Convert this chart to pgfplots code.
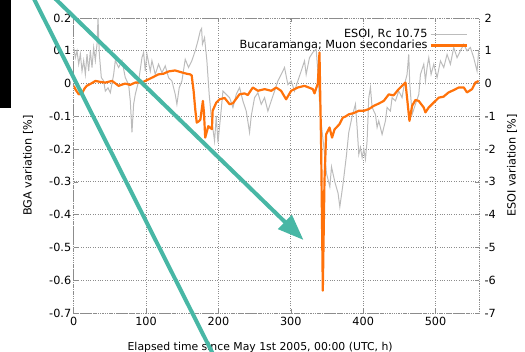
\documentclass[border=0pt]{standalone}
\usepackage{fontspec}
\setmainfont{DejaVu Sans}
\usepackage{pgfplots}
\usepackage{pgfplotstable}
\pgfplotsset{compat=1.18}
\usetikzlibrary{arrows.meta}
\definecolor{esoigray}{RGB}{188,188,188}
\definecolor{muonorange}{RGB}{255,114,10}
\definecolor{gridgray}{RGB}{140,140,140}
\definecolor{arrowteal}{RGB}{72,183,165}

\pgfplotstableread{
t e
0 1.10
2.3 0.79
4.6 1.0
6.9 0.59
9.2 0.9
11.5 0.38
13.8 0.7
16.1 0.28
18.4 0.9
20.7 0.38
23 1.0
25.3 0.49
27.6 1.1
29.9 0.7
32.2 1.2
33.6 2.0
35.4 0.9
38.2 0.18
41.4 0.08
43.7 -0.23
47.4 -0.13
50.6 -0.28
55.2 0.28
57.5 0.7
62.1 0.49
66.7 0.7
71.3 0.18
75.9 -0.03
78.2 -0.53
80.5 -1.49
82.8 -0.63
85.1 -0.33
89.7 0.08
94.3 0.79
96.6 0.95
98.9 0.38
101.2 0.9
105.8 0.38
108.1 0.7
112.7 0.28
117.3 0.59
121.9 0.33
126.5 0.54
131.1 0.18
135.7 0.08
140.3 -0.33
142.6 -0.63
145.8 -0.13
149.5 0.08
154.1 0.74
158.7 0.49
163.3 0.7
167.9 1.0
171.6 1.3
174.8 1.6
176.7 1.68
177.9 1.2
180.8 1.4
184 0.7
187.2 -0.33
190 -1.0
194.6 -1.75
197 -0.99
199.3 -1.8
203 -0.99
206.2 -0.23
210.8 -0.33
215.4 -0.43
220 -0.73
224.6 -0.33
229.2 -0.12
233.8 -0.53
238.4 -0.84
243 -1.49
245.3 -0.99
249.9 -0.43
254.5 -0.28
259.1 -0.63
263.7 -0.43
268.3 -0.84
272.9 -0.53
277.5 -0.23
282.1 0.08
286.7 0.28
291.3 0.49
295.9 -0.03
300.5 0.08
305.1 -0.23
309.7 0.08
314.3 0.38
318.9 0.69
321.2 0.28
325.8 0.79
330.4 0.95
335 1.05
337.3 0.38
339.6 -0.53
342 -1.2
344.6 -1.73
349.3 -2.74
353.9 -3.15
356.2 -2.54
360.8 -3.0
365.3 -3.35
367.7 -3.76
372.2 -3.05
376.8 -2.2
380 -1.5
384.7 -1.0
389.3 -0.63
391.6 -1.34
393.9 -2.16
396.2 -1.95
398.5 -2.26
400.8 -2.0
403.1 -2.31
405.4 -1.75
407.7 -0.43
410 -0.12
412.3 -0.73
416.9 -0.94
419.2 -1.34
421.5 -1.14
426.1 -1.55
430.7 -1.14
433 -0.73
437.6 -0.84
439.9 -0.43
444.5 -0.53
449.1 -0.23
453.7 -0.43
456 -0.12
460.6 0.28
462.9 0.89
464.3 0.0
467.6 -0.94
472.2 -0.63
476.8 -0.33
479.1 0.28
483.7 0.59
486 0.08
488.3 0.49
490.6 0.79
493.8 0.28
497.5 0.59
502.1 0.18
506.7 0.69
511.3 0.49
515.9 0.89
520.5 0.59
525.1 1.1
529.7 0.79
534.3 1.0
538.9 1.2
543.5 1.0
548.1 1.1
552.7 0.79
557.3 0.38
559.6 1.0
}\esoi

\pgfplotstableread{
t v
0 -0.007
3 -0.02
7 -0.033
11.5 -0.03
15 -0.015
18 -0.007
24 0.0
30 0.008
37 0.005
43.6 0.003
53 0.008
58 0.0
62 -0.007
67 -0.003
71 0.0
78 -0.004
85 0.003
94 0.003
103.5 0.013
110 0.02
117 0.028
124 0.03
131 0.037
140 0.04
149.5 0.034
156 0.03
161 0.028
163 0.025
165.7 -0.023
168 -0.08
170 -0.119
173 -0.115
175 -0.11
178.5 -0.053
180 -0.09
181.7 -0.165
186 -0.13
191 -0.139
192 -0.083
197 -0.058
201.5 -0.048
208.5 -0.044
215.4 -0.063
220 -0.06
229 -0.033
236 -0.03
240.5 -0.035
247.5 -0.012
254.5 -0.022
263.7 -0.017
273 -0.022
279.7 -0.012
286.5 -0.022
293.5 -0.048
300.5 -0.022
309.7 -0.012
319 -0.007
330.4 -0.017
332.7 -0.03
337.3 0.0
339.6 0.095
341.9 -0.195
344.2 -0.632
346.5 -0.297
348.8 -0.155
353.5 -0.134
357 -0.165
360.4 -0.14
367.2 -0.124
371.8 -0.104
376 -0.1
380 -0.094
387 -0.09
394 -0.083
401 -0.083
407.7 -0.078
414.6 -0.068
421.5 -0.061
428.4 -0.053
435.3 -0.033
442 -0.036
449 -0.017
456 -0.002
458.4 0.003
460.6 -0.043
463.9 -0.114
467.6 -0.068
472.2 -0.05
476.7 -0.053
483.6 -0.073
486 -0.088
490.5 -0.073
497.4 -0.058
504.3 -0.043
511 -0.04
518 -0.027
525 -0.02
532 -0.012
539 -0.012
543.4 -0.027
550.4 -0.017
555 0.003
559.6 0.008
}\muon

\pgfplotsset{
  common/.style={
    scale only axis, width=405.3bp, height=295bp,
    at={(73.7bp,39bp)}, anchor=south west,
    xmin=0, xmax=560,
    /pgf/number format/assume math mode=true,
    tick label style={font=\fontsize{11.3}{13}\selectfont},
    label style={font=\fontsize{11.3}{13}\selectfont},
  },
}

\begin{document}
\begin{tikzpicture}
\path[use as bounding box] (0,0) rectangle (525bp,352bp);

% ESOI axis (right), with frame and grid
\begin{axis}[common,
  ymin=-7, ymax=2,
  ytick={-7,-6,-5,-4,-3,-2,-1,0,1,2},
  xtick={0,100,200,300,400,500},
  yticklabel pos=right,
  grid=major,
  major grid style={gridgray, dotted, line width=0.8pt},
  axis line style={gridgray, densely dotted, line width=0.8pt},
  tick style={gridgray, line width=0.6pt},
  tick align=inside, major tick length=4bp,
  yticklabel style={xshift=2bp},
  xticklabel style={yshift=-1bp},
  ylabel={ESOI variation [\%]},
  ylabel style={at={(axis description cs:1,0.5)}, anchor=center, yshift=-33bp},
  xlabel={Elapsed time since May 1st 2005, 00:00 (UTC, h)},
  xlabel style={at={(axis description cs:0.46,0)}, anchor=base, yshift=-37bp,
    font=\fontsize{10.9}{13}\selectfont},
]
\addplot[esoigray, line width=1pt] table[x=t, y=e] {\esoi};
\end{axis}

% BGA axis (left)
\begin{axis}[common,
  ymin=-0.7, ymax=0.2,
  ytick={-0.7,-0.6,-0.5,-0.4,-0.3,-0.2,-0.1,0,0.1,0.2},
  yticklabels={-0.7,-0.6,-0.5,-0.4,-0.3,-0.2,-0.1,0,0.1,0.2},
  axis x line=none,
  axis y line*=left,
  axis line style={draw=none},
  ytick style={draw=none},
  yticklabel style={xshift=1bp},
  ylabel={BGA variation [\%]},
  ylabel style={at={(axis description cs:0,0.5)}, anchor=center, yshift=45.7bp},
  legend cell align=right,
  legend plot pos=right,
  legend image code/.code={\draw[#1] (0bp,0bp) -- (36bp,0bp);},
  legend style={draw=none, fill=none, at={(0.98,0.975)}, anchor=north east,
    font=\fontsize{11.3}{13}\selectfont, row sep=-3pt},
]
\addlegendimage{esoigray, line width=1pt}
\addlegendentry{ESOI, Rc 10.75}
\addplot[muonorange, line width=2.2pt, line join=round] table[x=t, y=v] {\muon};
\addlegendentry{Bucaramanga; Muon secondaries}
\end{axis}

% annotations
\fill[black] (0bp,244bp) rectangle (10.5bp,352bp);
\draw[arrowteal, line width=4bp] (30bp,361bp) -- (222bp,-20bp);
\draw[arrowteal, line width=4bp, -{Triangle[length=26bp,width=19bp]}] (46.3bp,362bp) -- (303.5bp,112bp);
\end{tikzpicture}
\end{document}
